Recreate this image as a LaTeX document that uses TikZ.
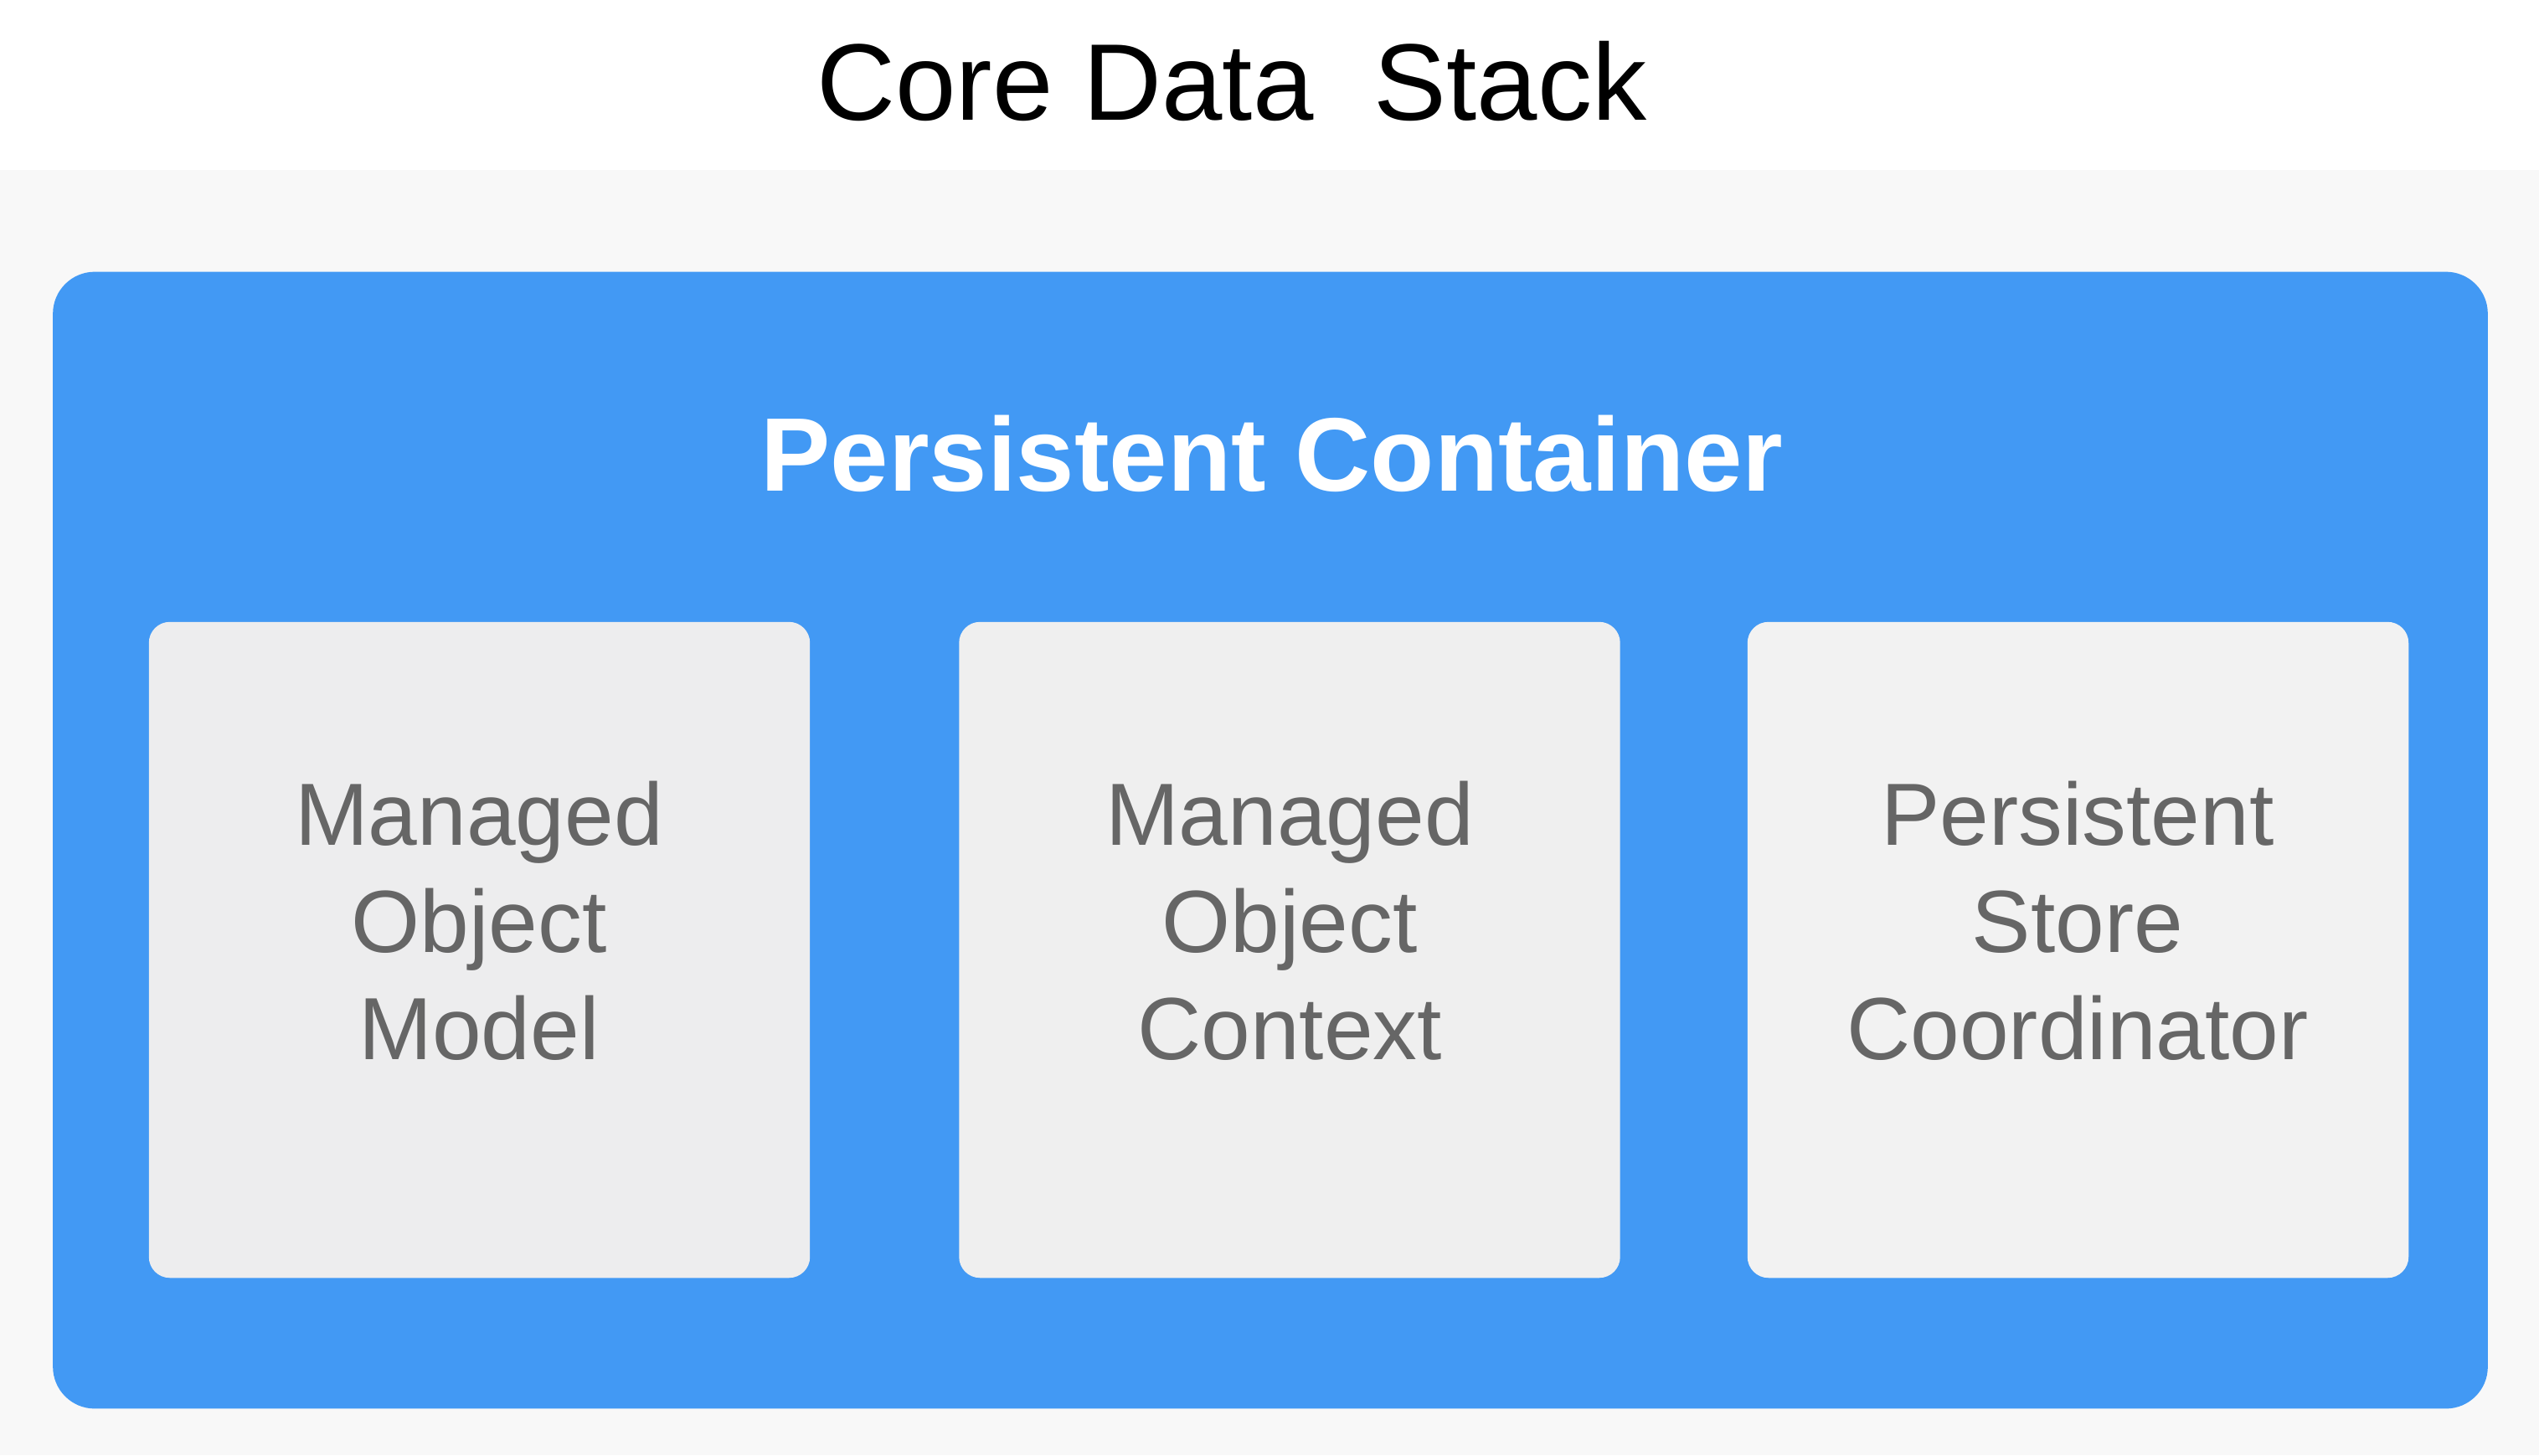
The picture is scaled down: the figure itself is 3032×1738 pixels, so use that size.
\documentclass[tikz,border=0pt]{standalone}
\usepackage{fontspec}
\setmainfont{Liberation Sans}
\definecolor{bluebg}{HTML}{4299F4}
\definecolor{pagebg}{HTML}{F8F8F8}
\definecolor{partA}{HTML}{EDEDEE}
\definecolor{partB}{HTML}{EFEFEF}
\definecolor{partC}{HTML}{F2F2F2}
\definecolor{parttxt}{HTML}{666666}
\begin{document}
\begin{tikzpicture}[x=0.01cm,y=-0.01cm,
  container/.style={fill=bluebg, draw=none, rounded corners=0.5cm, inner sep=0pt,
    minimum width=29.06cm, minimum height=13.57cm},
  partbox/.style={draw=none, rounded corners=0.25cm, inner sep=0pt,
    minimum width=7.89cm, minimum height=7.83cm},
  parttext/.style={text=parttxt, align=center, inner sep=0pt, anchor=north,
    font={\fontsize{30}{36.4}\selectfont}},
  titletext/.style={text=black, inner sep=0pt, anchor=base,
    font={\fontsize{37}{44}\selectfont}},
  containertext/.style={text=white, inner sep=0pt, anchor=base,
    font={\fontsize{35.5}{42}\selectfont\bfseries}}]
  \useasboundingbox (0,0) rectangle (3032,1738);
  \fill[white] (0,0) rectangle (3032,203);
  \fill[pagebg] (0,203) rectangle (3032,1738);
  \node[titletext] (title) at (1471,143) {Core Data\ \ Stack};
  \node[container] (pc) at (1517,1003.5) {};
  \node[containertext] (pctitle) at (1519,586) {Persistent Container};
  \node[partbox, fill=partA] (mom) at (572.5,1134.5) {};
  \node[partbox, fill=partB] (moc) at (1540,1134.5) {};
  \node[partbox, fill=partC] (psc) at (2481.5,1134.5) {};
  \node[parttext] (momtext) at (572,932) {Managed\\Object\\Model};
  \node[parttext] (moctext) at (1540,932) {Managed\\Object\\Context};
  \node[parttext] (psctext) at (2481,932) {Persistent\\Store\\Coordinator};
\end{tikzpicture}
\end{document}
